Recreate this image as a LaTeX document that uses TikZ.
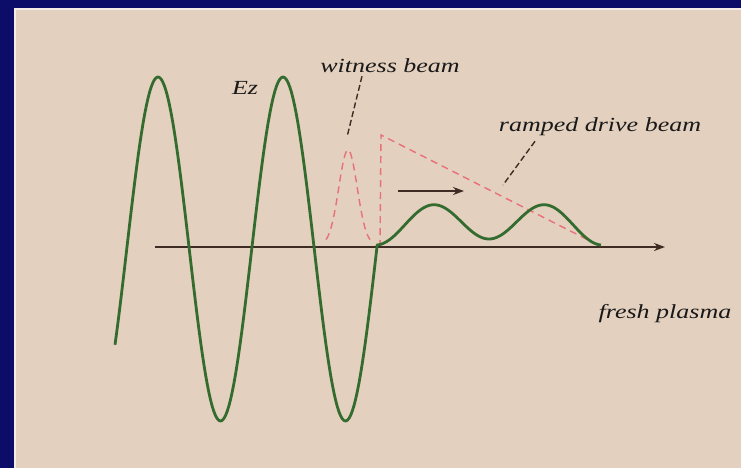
\documentclass[tikz,border=0pt]{standalone}
\usepackage{fontspec}
\setmainfont{Liberation Serif}
\usetikzlibrary{positioning,arrows.meta}
\definecolor{slidenavy}{RGB}{12,12,105}
\definecolor{slidebeige}{RGB}{227,208,190}
\definecolor{wakegreen}{RGB}{52,108,48}
\definecolor{beampink}{RGB}{232,112,120}
\definecolor{axisbrown}{RGB}{62,44,36}
\tikzset{%
  wake/.style={line width=2.8pt,wakegreen,line join=round},
  bunch/.style={line width=1.4pt,beampink,dash pattern=on 7pt off 5pt},
  leader/.style={line width=1.4pt,axisbrown,dash pattern=on 6pt off 3pt},
  axisline/.style={line width=2.2pt,axisbrown,-{Stealth[length=11pt,width=8pt]}},
  tag/.style={font=\fontsize{20}{24}\selectfont\itshape,xscale=1.3,text=black!90,inner sep=1pt}
}
\begin{document}
\begin{tikzpicture}[x=1pt,y=-1pt]
  \useasboundingbox (0,0) rectangle (741,468);
  % slide frame
  \fill[slidenavy] (0,0) rectangle (741,468);
  \fill[slidebeige] (14,8) rectangle (741,468);
  \draw[white!60!slidebeige,line width=2pt] (15,468) -- (15,9) -- (741,9);

  \coordinate (axisstart) at (155,247);
  \coordinate (axistip) at (665,247);
  \coordinate (rampfoot) at (380,247);
  \coordinate (ramptop) at (381,135);
  \coordinate (ramptail) at (600,246);
  \coordinate (witnesstip) at (347,137);
  \coordinate (rampedtip) at (503,185);
  \coordinate (pushtail) at (398,191);
  \coordinate (pushhead) at (464,191);

  % drive and witness bunches
  \draw[bunch] plot[domain=326:370,samples=60] (\x,{245-95*exp(-(\x-348)*(\x-348)/169)});
  \draw[bunch] (rampfoot) -- (ramptop) -- (ramptail);

  % axis
  \draw[axisline] (axisstart) -- (axistip);

  % Ez wake
  \draw[wake] plot[domain=115:377,samples=160] (\x,{249-172*cos(2.88*(\x-158))})
    -- plot[domain=377:601,samples=120] (\x,{245-18*(1-cos(3.214*(\x-377)))-6*sin(0.8036*(\x-377))});

  \draw[axisline,line width=1.6pt] (pushtail) -- (pushhead);

  % labels
  \node[tag] (ez) at (245,88) {Ez};
  \node[tag] (witness) at (390,66) {witness beam};
  \node[tag] (ramped) at (600,127) {ramped drive beam};
  \node[tag,below=56pt of axistip] (plasma) {fresh plasma};

  \draw[leader] ([xshift=-28pt,yshift=-2pt]witness.south) -- (witnesstip);
  \draw[leader] ([xshift=-65pt,yshift=-4pt]ramped.south) -- (rampedtip);
\end{tikzpicture}
\end{document}
